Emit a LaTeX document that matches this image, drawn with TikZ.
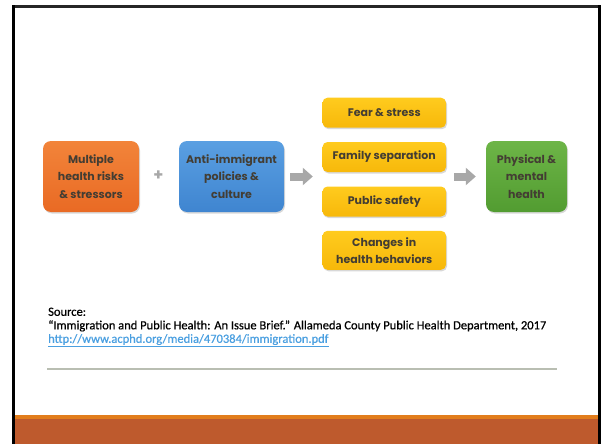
\documentclass[tikz,border=0pt]{standalone}
\usepackage{fontspec}
\setmainfont{Carlito}[FakeBold=0.6]
\newfontfamily\boxfont{Poppins}
\usetikzlibrary{shadows,arrows.meta}
\definecolor{boxtext}{HTML}{433D33}
\definecolor{linkblue}{HTML}{4A9FE0}
\definecolor{rulegray}{HTML}{B9BEB2}
\definecolor{arrowgray}{HTML}{A8A8A8}
\definecolor{barorange}{HTML}{E27D1C}
\definecolor{barrust}{HTML}{BE5A2D}
\definecolor{risktop}{HTML}{F2843A}
\definecolor{riskbot}{HTML}{E96A24}
\definecolor{policytop}{HTML}{5A9FE2}
\definecolor{policybot}{HTML}{3F85D0}
\definecolor{effecttop}{HTML}{FFCB1E}
\definecolor{effectbot}{HTML}{F7B80A}
\definecolor{healthtop}{HTML}{6DB547}
\definecolor{healthbot}{HTML}{529C31}
\tikzset{
    factor/.style={rounded corners=8pt, text=boxtext, align=center,
        font=\boxfont\bfseries\fontsize{11}{17.3}\selectfont,
        drop shadow={shadow xshift=1pt, shadow yshift=-1.5pt, fill=black!30, opacity=0.5},
        minimum height=71pt, inner sep=0pt},
    effect/.style={factor, rounded corners=5pt, top color=effecttop,
        bottom color=effectbot, minimum width=123.5pt, minimum height=30pt},
    grayarrow/.style={draw=arrowgray, line width=8pt, -{Triangle[width=17pt,length=10pt]}},
}
\begin{document}
\begin{tikzpicture}[x=1pt,y=-1pt]
    \useasboundingbox (0,0) rectangle (602,444);
    % slide frame
    \fill[black!85] (12,5) rectangle (601,8);
    \fill[black] (12,5) rectangle (15,444);
    \fill[black] (598,5) rectangle (601,444);
    % footer bars
    \fill[barorange] (15,415) rectangle (598,419);
    \fill[barrust] (15,419) rectangle (598,444);

    % causes
    \node[factor, top color=risktop, bottom color=riskbot, minimum width=96pt]
        (risks) at (91,176.5) {Multiple\\health risks\\\& stressors};
    \node[text=arrowgray, font=\boxfont\bfseries\fontsize{16}{16}\selectfont]
        (plus) at (158.5,176) {+};
    \node[factor, top color=policytop, bottom color=policybot, minimum width=105pt]
        (policy) at (231.5,176.5) {Anti-immigrant\\policies \&\\culture};

    % pathways
    \node[effect] (fear) at (384.25,112.7) {Fear \& stress};
    \node[effect] (family) at (384.25,157) {Family separation};
    \node[effect] (safety) at (384.25,201.5) {Public safety};
    \node[effect, minimum height=39pt] (behave) at (384.25,250.3) {Changes in\\health behaviors};

    % outcome
    \node[factor, top color=healthtop, bottom color=healthbot, minimum width=81pt]
        (outcome) at (526.5,176.5) {Physical \&\\mental\\health};

    % arrows
    \draw[grayarrow, shorten <=6pt, shorten >=9.5pt] (policy.east) -- (policy.east -| family.west);
    \draw[grayarrow, shorten <=8pt, shorten >=10pt] (outcome.west -| family.east) -- (outcome.west);

    % source
    \node[anchor=north west, align=left, inner sep=0pt, font=\fontsize{12.5}{13.5}\selectfont]
        (source) at (48,307.5) {Source:\\
        ``Immigration and Public Health: An Issue Brief.'' Allameda County Public Health Department, 2017\\
        \textcolor{linkblue}{\underline{http://www.acphd.org/media/470384/immigration.pdf}}};
    \draw[rulegray, line width=2pt] (47,368.7) -- (557,368.7);
\end{tikzpicture}
\end{document}
